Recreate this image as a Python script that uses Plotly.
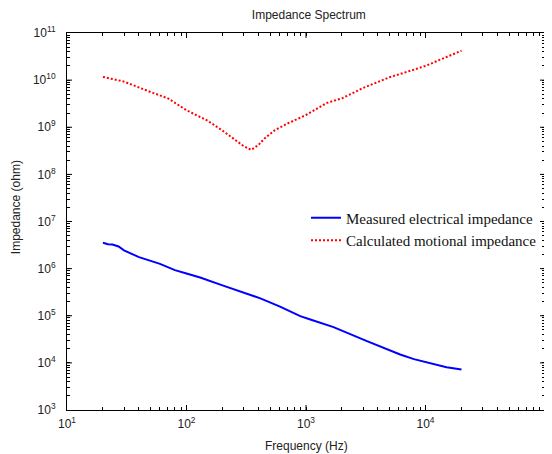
import plotly.graph_objects as go

# Measured electrical impedance (blue)
freq_measured = [20, 22, 24, 27, 30, 40, 60, 80, 100, 130, 200, 300, 415, 600, 895,
                 1087, 1700, 3236, 6138, 8000, 11670, 15000, 20000]
z_measured = [3.55e6, 3.30e6, 3.25e6, 2.95e6, 2.45e6, 1.75e6, 1.26e6, 9.3e5, 7.9e5,
              6.5e5, 4.4e5, 3.16e5, 2.34e5, 1.58e5, 9.8e4, 8.3e4, 5.75e4, 2.9e4,
              1.51e4, 1.20e4, 9.3e3, 8.1e3, 7.2e3]

# Calculated motional impedance (red)
freq_motional = [20, 30, 50, 70, 100, 150, 200, 250, 300, 347, 400, 450, 550, 700,
                 1000, 1500, 2000, 3000, 5000, 7000, 10000, 15000, 20000]
z_motional = [1.17e10, 9.3e9, 5.6e9, 4.1e9, 2.3e9, 1.38e9, 8.5e8, 5.5e8, 4.0e8,
              3.3e8, 4.2e8, 5.8e8, 8.7e8, 1.2e9, 1.82e9, 3.3e9, 4.1e9, 6.8e9,
              1.15e10, 1.5e10, 2.0e10, 3.1e10, 4.2e10]

x_tickvals = [1e1, 1e2, 1e3, 1e4, 1e5]
x_ticktext = ["10<sup>1</sup>", "10<sup>2</sup>", "10<sup>3</sup>", "10<sup>4</sup>", "10<sup>5</sup>"]
y_tickvals = [1e3, 1e4, 1e5, 1e6, 1e7, 1e8, 1e9, 1e10, 1e11]
y_ticktext = ["10<sup>3</sup>", "10<sup>4</sup>", "10<sup>5</sup>", "10<sup>6</sup>", "10<sup>7</sup>",
              "10<sup>8</sup>", "10<sup>9</sup>", "10<sup>10</sup>", "10<sup>11</sup>"]
minor_mult = [2, 3, 4, 5, 6, 7, 8, 9]

SANS = "Liberation Sans, Arial, sans-serif"
SERIF = "Liberation Serif, Times New Roman, serif"


def with_minor(vals, texts):
    """Major ticks with labels plus unlabeled minor ticks (2..9 per decade)."""
    all_vals, all_text = [], []
    for i, (v, t) in enumerate(zip(vals, texts)):
        all_vals.append(v)
        all_text.append(t)
        if i < len(vals) - 1:
            for k in minor_mult:
                all_vals.append(v * k)
                all_text.append("")
    return all_vals, all_text


x_all, x_all_text = with_minor(x_tickvals, x_ticktext)
y_all, y_all_text = with_minor(y_tickvals, y_ticktext)

fig = go.Figure()
fig.add_trace(go.Scatter(
    x=freq_measured, y=z_measured, mode="lines",
    name="Measured electrical impedance",
    line=dict(color="#0000ff", width=2),
))
fig.add_trace(go.Scatter(
    x=freq_motional, y=z_motional, mode="lines",
    name="Calculated motional impedance",
    line=dict(color="#ff0000", width=2, dash="2px,2px"),
))

axis_common = dict(
    type="log", showgrid=False, zeroline=False, automargin=False,
    showline=True, linecolor="#000000", linewidth=1, mirror="ticks",
    ticks="inside", ticklen=3, tickcolor="#000000", tickmode="array",
    tickfont=dict(family=SANS, size=12, color="#222222"),
)

# longer major ticks on all four edges
shapes = []
tick_line = dict(color="#000000", width=1)
for v in x_tickvals[1:-1]:
    shapes.append(dict(type="line", xref="x", yref="paper", x0=v, x1=v,
                       ysizemode="pixel", yanchor=1, y0=0, y1=-5, line=tick_line))
    shapes.append(dict(type="line", xref="x", yref="paper", x0=v, x1=v,
                       ysizemode="pixel", yanchor=0, y0=0, y1=5, line=tick_line))
for v in y_tickvals[1:-1]:
    shapes.append(dict(type="line", xref="paper", yref="y", y0=v, y1=v,
                       xsizemode="pixel", xanchor=1, x0=0, x1=-5, line=tick_line))
    shapes.append(dict(type="line", xref="paper", yref="y", y0=v, y1=v,
                       xsizemode="pixel", xanchor=0, x0=0, x1=5, line=tick_line))

# page body adds an 8px offset; figure is sized to fill the remaining window
fig.update_layout(
    width=544, height=446,
    paper_bgcolor="white", plot_bgcolor="white",
    margin=dict(l=59, r=7, t=25, b=44),
    title=dict(text="Impedance Spectrum", x=0.553, xanchor="center", y=0.984, yanchor="middle",
               font=dict(family=SANS, size=12, color="#222222")),
    xaxis=dict(axis_common, range=[1, 5], tickvals=x_all, ticktext=x_all_text,
               ticklabelstandoff=3),
    yaxis=dict(axis_common, range=[3, 11], tickvals=y_all, ticktext=y_all_text,
               ticklabelstandoff=8),
    shapes=shapes,
    showlegend=True,
    legend=dict(x=0.5, y=0.48, xanchor="left", yanchor="middle",
                bgcolor="rgba(0,0,0,0)", borderwidth=0,
                font=dict(family=SERIF, size=15, color="#111111"),
                itemwidth=30, tracegroupgap=0),
    annotations=[
        dict(text="Frequency (Hz)", xref="paper", yref="paper", x=0.5, y=-0.0955,
             xanchor="center", yanchor="middle", showarrow=False,
             font=dict(family=SANS, size=12, color="#222222")),
        dict(text="Impedance (ohm)", xref="paper", yref="paper", x=-0.1067, y=0.538,
             xanchor="center", yanchor="middle", showarrow=False, textangle=-90,
             font=dict(family=SANS, size=12, color="#222222")),
    ],
)

fig.write_html("out.html")
